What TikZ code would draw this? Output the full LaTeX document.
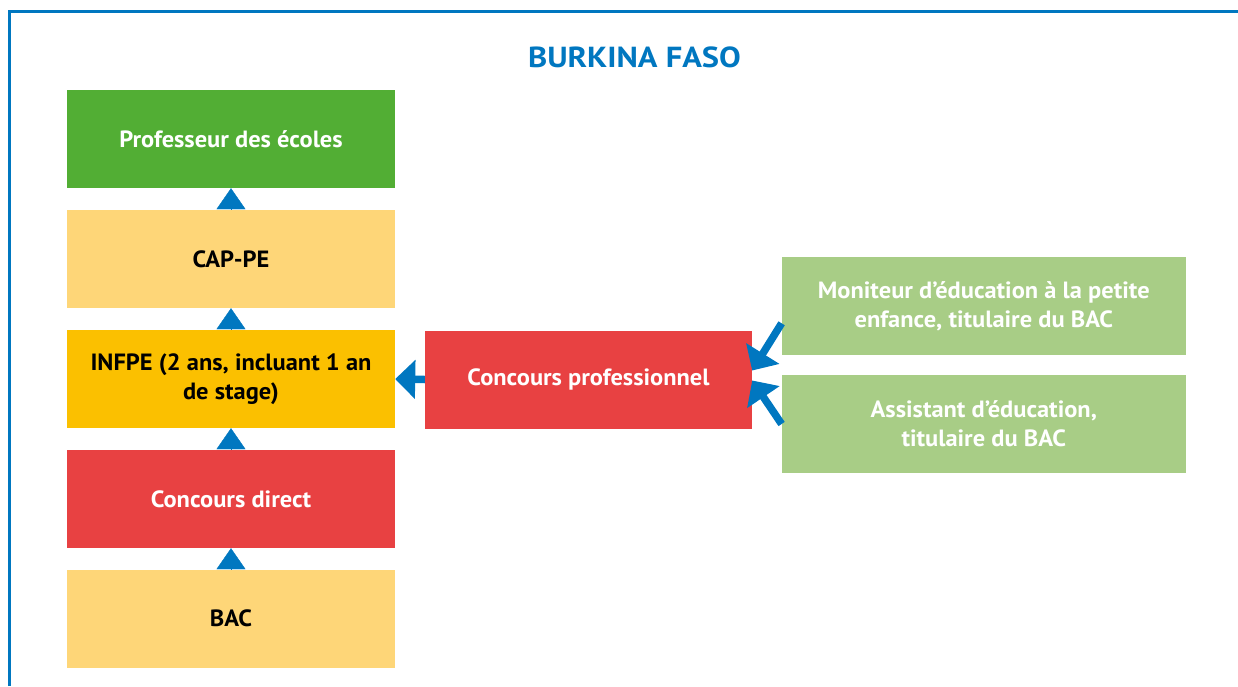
\documentclass[tikz,border=0pt]{standalone}
\usepackage{fontspec}
\setmainfont{PT Sans}[FakeStretch=1.04]
\newfontfamily\titlefont{PT Sans}[FakeStretch=1.12]
\usetikzlibrary{arrows.meta}

\definecolor{bfblue}{HTML}{0077C0}
\definecolor{bfgreen}{HTML}{52AE34}
\definecolor{bflight}{HTML}{FED678}
\definecolor{bfgold}{HTML}{FBC000}
\definecolor{bfred}{HTML}{E84142}
\definecolor{bfsage}{HTML}{A8CD86}

\begin{document}
\begin{tikzpicture}[x=1pt, y=-1pt,
  box/.style = {minimum width=328pt, minimum height=98pt, inner sep=0pt, align=center, font=\bfseries\fontsize{23.5}{29}\selectfont},
  uptip/.style = {-{Triangle[length=21pt, width=29pt]}, line width=0.4pt, draw=bfblue},
  bigarrow/.style = {-{Triangle[length=20pt, width=38pt]}, line width=7.5pt, draw=bfblue}]
\useasboundingbox (0,0) rectangle (1238,686);

% frame and title
\draw[bfblue, line width=2.7pt] (9.3,686) -- (9.3,11.3) -- (1238,11.3);
\node[anchor=base, text=bfblue, font=\titlefont\bfseries\fontsize{29}{34}\selectfont] (title) at (634.5,67.7) {BURKINA FASO};

% left column
\node[box, fill=bfgreen, text=white] (prof) at (231,139) {Professeur des écoles};
\node[box, fill=bflight] (cap) at (231,259) {CAP-PE};
\node[box, fill=bfgold] (infpe) at (231,379) {INFPE (2 ans, incluant 1 an\\de stage)};
\node[box, fill=bfred, text=white] (direct) at (231,499) {Concours direct};
\node[box, fill=bflight] (bac) at (231,618.5) {BAC};

% right side
\node[box, fill=bfred, text=white, minimum width=327pt] (pro) at (588.5,379.5) {Concours professionnel};
\node[box, fill=bfsage, text=white, minimum width=404pt] (mon) at (983.8,306.3) {Moniteur d’éducation à la petite\\enfance, titulaire du BAC};
\node[box, fill=bfsage, text=white, minimum width=404pt] (ass) at (983.8,424) {Assistant d’éducation,\\titulaire du BAC};

\draw[uptip] (cap.north) -- (prof.south);
\draw[uptip] (infpe.north) -- (cap.south);
\draw[uptip] (direct.north) -- (infpe.south);
\draw[uptip] (bac.north) -- (direct.south);

\draw[bigarrow] (pro.west) -- (infpe.east);
\draw[bigarrow] ([yshift=-17pt]mon.west) -- ([yshift=9pt]pro.east);
\draw[bigarrow] (ass.west) -- ([yshift=-1pt]pro.east);
\end{tikzpicture}
\end{document}
